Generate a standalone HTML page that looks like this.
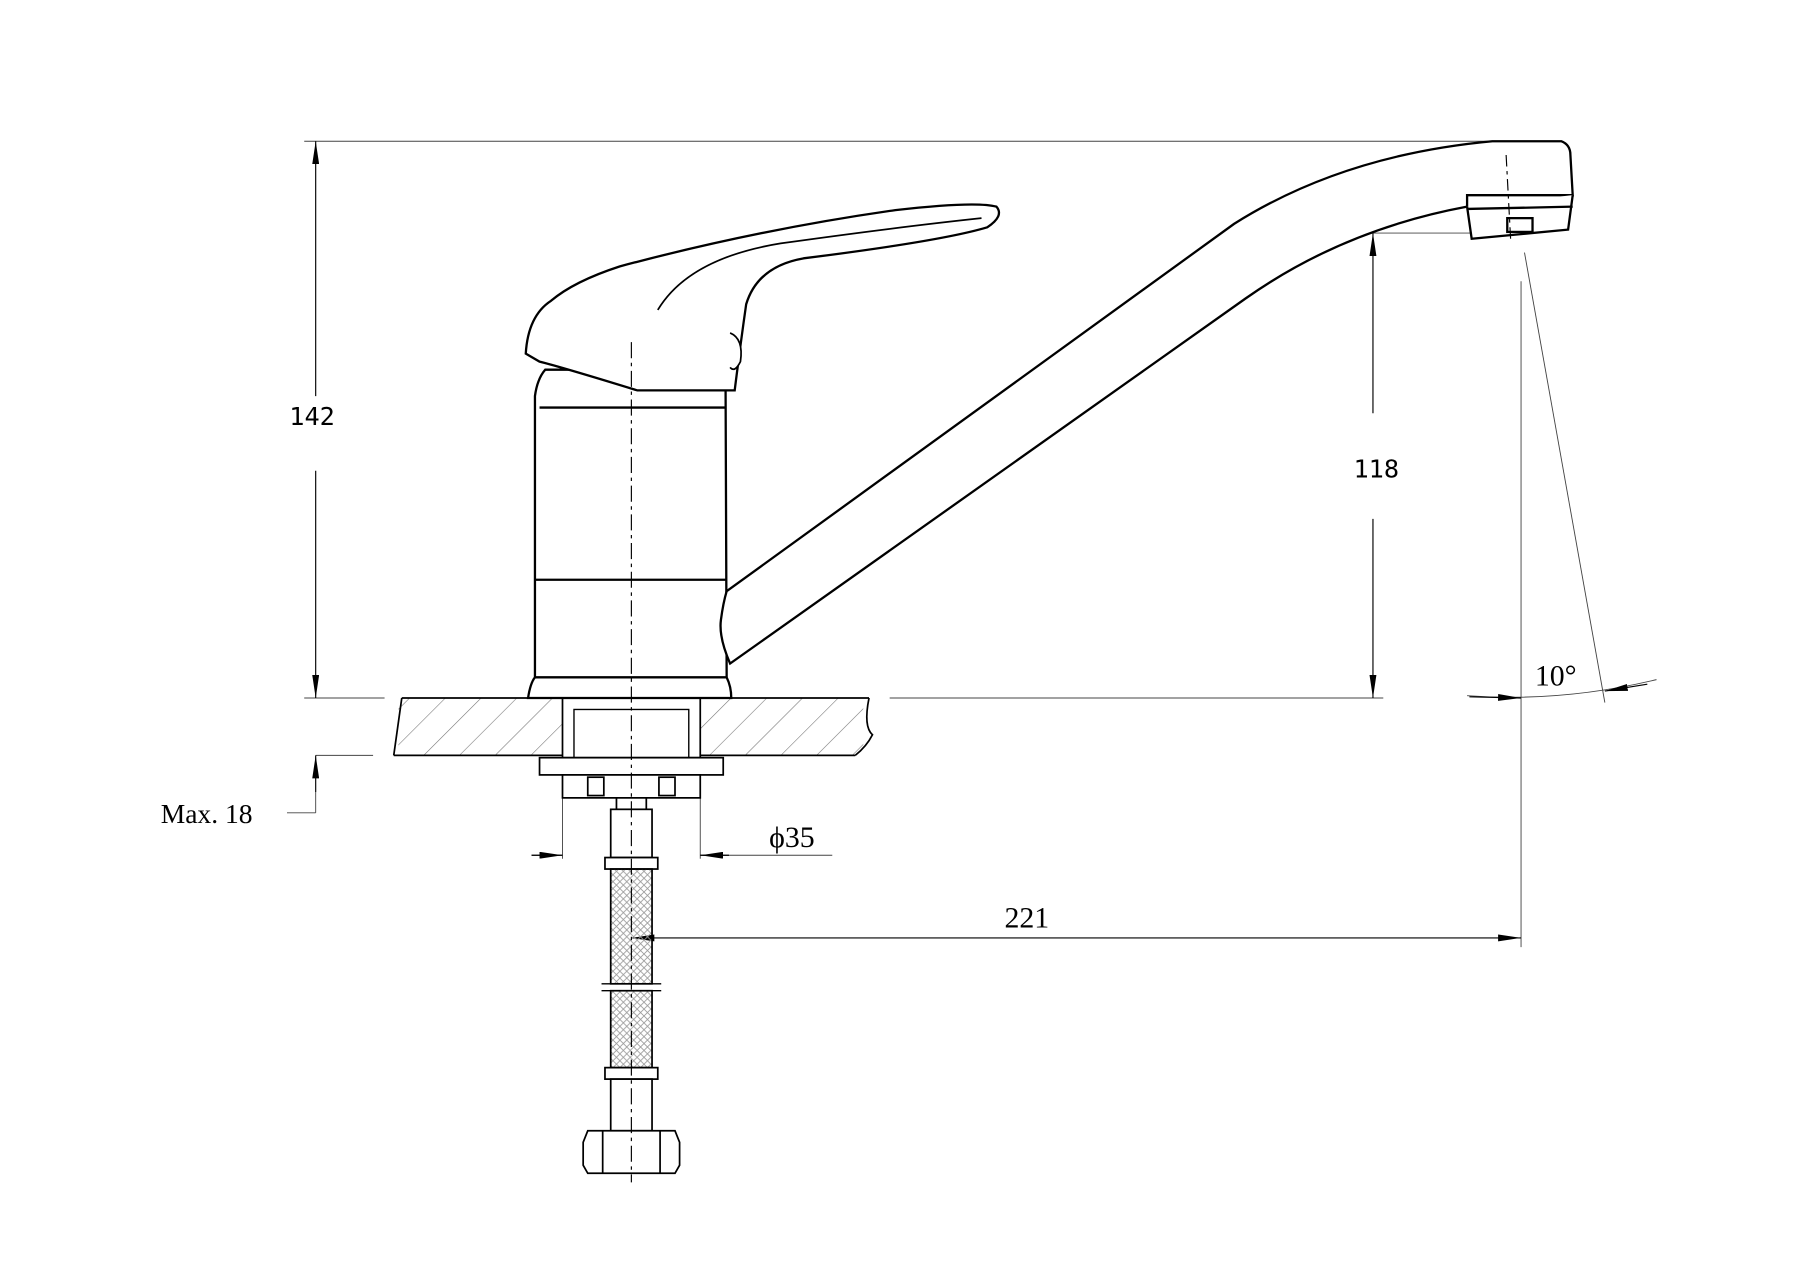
<!DOCTYPE html>
<html><head><meta charset="utf-8"><style>
html,body{margin:0;padding:0;background:#fff;}
svg{display:block;}
text{font-family:"DejaVu Sans Mono","Liberation Mono",monospace;fill:#000;}
.s{font-family:"Liberation Serif",serif;}
</style></head><body>
<svg width="1800" height="1272" viewBox="0 0 1568 1108" xmlns="http://www.w3.org/2000/svg">
<defs>
<pattern id="h" width="22" height="22" patternUnits="userSpaceOnUse" patternTransform="rotate(45)">
<line x1="0" y1="0" x2="0" y2="22" stroke="#777" stroke-width="1"/></pattern>
<pattern id="m" width="6" height="6" patternUnits="userSpaceOnUse">
<path d="M0 0L6 6M6 0L0 6" stroke="#999" stroke-width="0.7"/></pattern>
<marker id="a" viewBox="0 0 20 6" refX="20" refY="3" markerWidth="20" markerHeight="6" markerUnits="userSpaceOnUse" orient="auto-start-reverse" preserveAspectRatio="none">
<path d="M0 0L20 3L0 6z" fill="#000"/></marker>
</defs>
<g fill="none" stroke="#000">
<g stroke-width="0.8" stroke="#444">
<line x1="265" y1="123" x2="1320" y2="123"/>
<line x1="265" y1="608" x2="335" y2="608"/>
<line x1="275" y1="658" x2="325" y2="658"/>
<line x1="775" y1="608" x2="1205" y2="608"/>
<line x1="1196" y1="203" x2="1330" y2="203"/>
<line x1="1325" y1="245" x2="1325" y2="825"/>
<line x1="1328" y1="220" x2="1398" y2="612"/>
<path d="M1278 606 Q1360 612 1443 592"/>
<line x1="250" y1="708" x2="275" y2="708"/>
<line x1="275" y1="708" x2="275" y2="690"/>
<line x1="490" y1="695" x2="490" y2="748"/>
<line x1="610" y1="695" x2="610" y2="748"/>
<line x1="463" y1="745" x2="490" y2="745"/>
<line x1="610" y1="745" x2="725" y2="745"/>
</g>
<g stroke-width="1">
<line x1="275" y1="345" x2="275" y2="123" marker-end="url(#a)"/>
<line x1="275" y1="410" x2="275" y2="608" marker-end="url(#a)"/>
<line x1="275" y1="690" x2="275" y2="658" marker-end="url(#a)"/>
<line x1="1196" y1="360" x2="1196" y2="203" marker-end="url(#a)"/>
<line x1="1196" y1="452" x2="1196" y2="608" marker-end="url(#a)"/>
<line x1="1325" y1="817" x2="550" y2="817" marker-start="url(#a)" marker-end="url(#a)"/>
<line x1="463" y1="745" x2="490" y2="745" marker-end="url(#a)"/>
<line x1="635" y1="745" x2="610" y2="745" marker-end="url(#a)"/>
<line x1="1280" y1="607" x2="1325" y2="608" marker-end="url(#a)"/>
<line x1="1435" y1="596" x2="1398" y2="602" marker-end="url(#a)"/>
</g>
<rect x="347" y="608" width="405" height="50" fill="url(#h)" stroke="none"/>
<g stroke-width="1.5">
<line x1="350" y1="608" x2="757" y2="608"/>
<line x1="343" y1="658" x2="745" y2="658"/>
<line x1="350" y1="608" x2="343" y2="658"/>
<path d="M757 608 Q752 633 760 640 Q755 650 745 658"/>
</g>
<rect x="490" y="608" width="120" height="52" fill="#fff" stroke-width="1.5"/>
<rect x="500" y="618" width="100" height="42" stroke-width="1.2"/>
<g stroke-width="1.5" fill="#fff">
<rect x="470" y="660" width="160" height="15"/>
<rect x="490" y="675" width="120" height="20"/>
<rect x="512" y="677" width="14" height="16"/>
<rect x="574" y="677" width="14" height="16"/>
<rect x="537" y="695" width="26" height="10"/>
<rect x="532" y="705" width="36" height="42"/>
<rect x="527" y="747" width="46" height="10"/>
<rect x="532" y="757" width="36" height="100" fill="url(#m)"/>
<rect x="532" y="863" width="36" height="67" fill="url(#m)"/>
<rect x="527" y="930" width="46" height="10"/>
<rect x="532" y="940" width="36" height="45"/>
<path d="M512 985 H588 L592 995 V1015 L588 1022 H512 L508 1015 V995Z"/>
<line x1="525" y1="985" x2="525" y2="1022"/>
<line x1="575" y1="985" x2="575" y2="1022"/>
</g>
<line x1="524" y1="857" x2="576" y2="857" stroke-width="1.2"/>
<line x1="524" y1="863" x2="576" y2="863" stroke-width="1.2"/>
<g stroke-width="2" fill="#fff">
<path d="M460 608 Q462 595 466 590 L466 345 Q468 330 475 322 L632 322 L633 590 Q637 598 637 608Z"/>
<line x1="466" y1="505" x2="633" y2="505"/>
<line x1="466" y1="590" x2="633" y2="590"/>
<path d="M470 355 L632 355"/>
<path d="M633 515 L1075 195 Q1170 135 1300 123 L1360 123 Q1368 126 1368 135 L1370 170 L1278 170 L1278 180 Q1170 200 1085 260 L636 578 Q626 555 628 540 Q630 525 633 515Z"/>
<path d="M1278 180 L1282 208 L1366 200 L1370 170"/>
<line x1="1278" y1="182" x2="1370" y2="180"/>
<rect x="1313" y="190" width="22" height="12"/>
<path d="M458 308 Q460 275 480 262 Q500 245 540 232 Q660 200 780 183 Q850 175 868 180 Q875 188 860 198 Q820 210 700 225 Q660 232 650 265 Q645 300 640 340 L555 340 Q490 320 470 315 Z"/>
<path d="M573 270 Q600 225 680 212 Q780 198 855 190" stroke-width="1.5" fill="none"/>
<path d="M636 290 Q648 295 645 315 Q640 325 636 320" stroke-width="1.5"/>
</g>
<line x1="550" y1="298" x2="550" y2="1030" stroke-width="1" stroke-dasharray="14,4,3,4"/>
<line x1="1312" y1="135" x2="1316" y2="210" stroke-width="1" stroke-dasharray="10,4,3,4"/>
</g>
<text x="252" y="370" font-size="22">142</text>
<text x="1179" y="416" font-size="22">118</text>
<text class="s" x="140" y="717" font-size="24">Max. 18</text>
<text class="s" x="670" y="738" font-size="26">ϕ35</text>
<text class="s" x="875" y="808" font-size="26">221</text>
<text class="s" x="1337" y="597" font-size="26">10°</text>
</svg>
</body></html>
